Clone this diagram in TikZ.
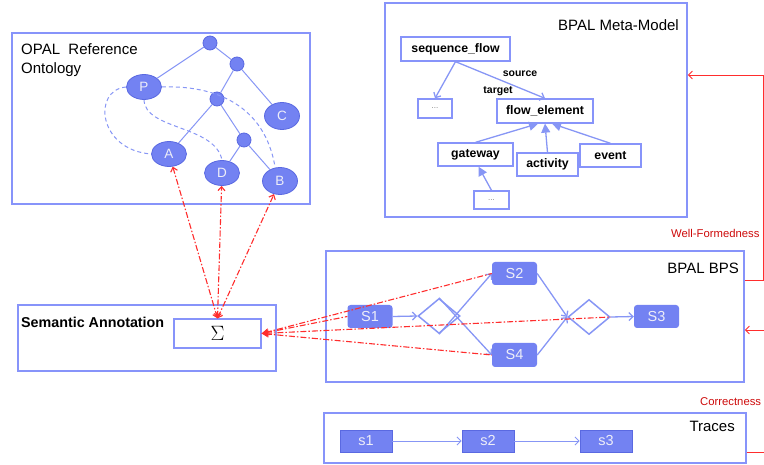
\documentclass[tikz,border=0pt]{standalone}
\usepackage{fontspec}
\setmainfont{Liberation Sans}
\usetikzlibrary{arrows.meta,shapes.geometric}
\definecolor{frm}{RGB}{135,148,250}
\definecolor{nfill}{RGB}{115,130,242}
\definecolor{ndraw}{RGB}{90,105,225}
\definecolor{edg}{RGB}{135,150,245}
\definecolor{rd}{RGB}{255,45,45}
\definecolor{dred}{RGB}{205,10,10}
\definecolor{ntxt}{RGB}{238,238,248}
\begin{document}
\begin{tikzpicture}[x=1pt,y=-1pt,
  frame/.style={draw=frm,line width=1.5pt,rectangle,inner sep=0pt},
  ttl/.style={font=\fontsize{15}{18}\selectfont,inner sep=0pt},
  tc/.style={circle,fill=nfill,draw=ndraw,line width=0.8pt,minimum size=14pt,inner sep=0pt},
  te/.style={ellipse,fill=nfill,draw=ndraw,line width=0.8pt,minimum width=35pt,minimum height=25pt,inner sep=0pt,text=ntxt,font=\fontsize{13.5}{15}\selectfont},
  tedge/.style={draw=edg,line width=1pt},
  tdash/.style={draw=edg,line width=1pt,dash pattern=on 4pt off 3pt},
  mbox/.style={draw=frm,line width=1.3pt,fill=white,inner sep=0pt,font=\bfseries\fontsize{12.3}{14}\selectfont},
  dots/.style={draw=frm,line width=1.3pt,fill=white,inner sep=0pt,font=\fontsize{8}{10}\selectfont,text=gray},
  snode/.style={rounded corners=3pt,fill=nfill,text=ntxt,font=\fontsize{14.5}{16}\selectfont,minimum width=45pt,minimum height=23pt,inner sep=0pt},
  trnode/.style={fill=nfill,draw=ndraw,line width=0.8pt,text=ntxt,font=\fontsize{14.5}{16}\selectfont,minimum width=52pt,minimum height=22pt,inner sep=0pt},
  dia/.style={diamond,draw=edg,line width=1.5pt,minimum width=42pt,minimum height=35pt,inner sep=0pt},
  barb/.style={-{Straight Barb[length=4pt,width=8pt]}},
  bflow/.style={draw=edg,line width=1.3pt,barb},
  tflow/.style={draw=edg,line width=0.9pt,barb},
  gen/.style={draw=edg,line width=1.3pt,-{Triangle[length=9pt,width=9pt]}},
  rdd/.style={draw=rd,line width=1.1pt,dash pattern=on 6pt off 2pt on 1.5pt off 2pt},
  rline/.style={draw=rd,line width=0.9pt},
  lbl/.style={font=\bfseries\fontsize{10.5}{12}\selectfont,inner sep=0pt},
  rlbl/.style={font=\fontsize{11.3}{13}\selectfont,text=dred,inner sep=0pt,anchor=west}
]
\useasboundingbox (0,0) rectangle (764,465);
\clip (0,0) rectangle (764,465);

% ---------------- frames ----------------
\node[frame,minimum width=298pt,minimum height=171pt] (opal) at (161,118.5) {};
\node[frame,minimum width=302pt,minimum height=214pt] (meta) at (536,110) {};
\node[frame,minimum width=258pt,minimum height=66pt] (sem) at (147,338) {};
\node[frame,minimum width=418pt,minimum height=131pt] (bps) at (535,316.5) {};
\node[frame,minimum width=422pt,minimum height=50pt] (trc) at (535,438) {};

\node[ttl,anchor=north west,align=left,font=\fontsize{15}{19}\selectfont] (opalt) at (21,43) {OPAL\ \ Reference\\Ontology};
\node[ttl,anchor=east] (metat) at (679,25) {BPAL Meta-Model};
\node[ttl,anchor=west,font=\bfseries\fontsize{14.3}{17}\selectfont] (semt) at (21,322) {Semantic Annotation};
\node[ttl,anchor=east] (bpst) at (739,268) {BPAL BPS};
\node[ttl,anchor=east] (trct) at (735,426) {Traces};

% ---------------- ontology ----------------
\node[tc] (t1) at (210,43) {};
\node[tc] (t2) at (237,64) {};
\node[tc] (t3) at (217,99) {};
\node[tc] (t4) at (244,140) {};
\node[te] (P) at (144,87) {P};
\node[te,minimum height=27pt] (C) at (282,116) {C};
\node[te] (A) at (169,154) {A};
\node[te] (D) at (222,173) {D};
\node[te,minimum height=27pt] (B) at (280,181) {B};
\draw[tedge] (t1) -- (P);
\draw[tedge] (t1) -- (t2);
\draw[tedge] (t2) -- (t3);
\draw[tedge] (t2) -- (C);
\draw[tedge] (t3) -- (A);
\draw[tedge] (t3) -- (t4);
\draw[tedge] (t4) -- (D);
\draw[tedge] (t4) -- (B);
\draw[tdash] (P.west) .. controls (92,90) and (98,150) .. (A.west);
\draw[tdash] (P.south) .. controls (145,130) and (215,125) .. (D.north);
\draw[tdash] (P.east) .. controls (215,85) and (265,105) .. (B.110);

% ---------------- meta model ----------------
\node[mbox,minimum width=109pt,minimum height=24pt] (sf) at (455.5,49) {sequence\_flow};
\node[dots,minimum width=34pt,minimum height=19pt] (dd1) at (435,108.5) {...};
\node[mbox,minimum width=96pt,minimum height=24pt] (fe) at (545,111) {flow\_element};
\node[mbox,minimum width=75pt,minimum height=23pt] (gw) at (475.5,154.5) {gateway};
\node[mbox,minimum width=61pt,minimum height=23pt] (ac) at (547.5,164.5) {activity};
\node[mbox,minimum width=61pt,minimum height=23pt] (ev) at (610.5,155.5) {event};
\node[dots,minimum width=35pt,minimum height=18pt] (dd2) at (491.5,200) {...};
\draw[bflow] (sf.south) -- (dd1.north);
\draw[bflow] (sf.south) -- (fe.north);
\node[lbl] (srcl) at (520,74) {source};
\node[lbl] (tgtl) at (498,91) {target};
\draw[gen] (gw.north) -- ([xshift=-7pt]fe.south);
\draw[gen] (ac.north) -- (fe.south);
\draw[gen] (ev.north) -- ([xshift=7pt]fe.south);
\draw[gen] (dd2.north) -- ([xshift=3pt]gw.south);

% ---------------- semantic annotation ----------------
\node[draw=frm,line width=1.3pt,minimum width=87pt,minimum height=29pt,inner sep=0pt] (sig) at (217.5,333.5) {\fontsize{21}{24}\selectfont$\Sigma$};

% ---------------- BPS ----------------
\node[snode] (S1) at (370,316.5) {S1};
\node[snode] (S2) at (514.5,273.5) {S2};
\node[snode,minimum height=24pt] (S4) at (514.5,355) {S4};
\node[snode] (S3) at (656.5,316.5) {S3};
\node[dia] (d1) at (439,316) {};
\node[dia] (d2) at (589,317) {};
\draw[bflow] (S1.east) -- (d1.west);
\draw[bflow] (d1.south) -- (S2.west);
\draw[bflow] (d1.north) -- (S4.west);
\draw[bflow] (S2.east) -- (d2.west);
\draw[bflow] (S4.east) -- (d2.west);
\draw[bflow] (d2.east) -- (S3.west);

% ---------------- traces ----------------
\node[trnode] (s1) at (366,441) {s1};
\node[trnode] (s2) at (488,441) {s2};
\node[trnode] (s3) at (606,441) {s3};
\draw[tflow] (s1) -- (s2);
\draw[tflow] (s2) -- (s3);

% ---------------- red annotation links ----------------
\draw[rdd,{Straight Barb[length=4pt,width=7pt]}-{Straight Barb[length=4pt,width=7pt]}] (sig.north) -- (A);
\draw[rdd,{Straight Barb[length=4pt,width=7pt]}-{Straight Barb[length=4pt,width=7pt]}] (sig.north) -- (D);
\draw[rdd,{Straight Barb[length=4pt,width=7pt]}-{Straight Barb[length=4pt,width=7pt]}] (sig.north) -- (B);
\draw[rdd,{Stealth[length=7pt,width=7pt]}-] (sig.east) -- (S1.west);
\draw[rdd,{Stealth[length=7pt,width=7pt]}-] (sig.east) -- (S2.west);
\draw[rdd,{Stealth[length=7pt,width=7pt]}-] (sig.east) -- (d2.east);
\draw[rdd,{Stealth[length=7pt,width=7pt]}-] (sig.east) -- (S4.west);

% ---------------- right-hand checks ----------------
\coordinate (r1) at (763,75);
\coordinate (r2) at (763,280);
\coordinate (r3) at (766,330);
\coordinate (r4) at (766,452);
\draw[rline,barb] (r2 -| bps.east) -- (r2) -- (r1) -- (r1 -| meta.east);
\draw[rline,barb] (r3) -- (r3 -| bps.east);
\draw[rline] (r4 -| trc.east) -- (r4);
\node[rlbl] (wf) at (671,233) {Well-Formedness};
\node[rlbl] (cr) at (700,402) {Correctness};
\end{tikzpicture}
\end{document}
